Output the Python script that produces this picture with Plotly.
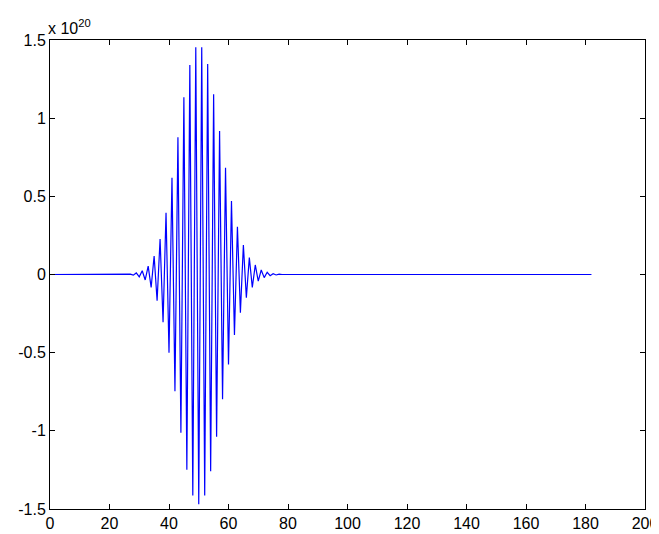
import plotly.graph_objects as go

# Sample index 0..182 ; values in units of 1e20
N_POINTS = 183
PULSE_START = 27
pulse_values = [
    0.002, -0.004, 0.010, -0.015, 0.024, -0.035, 0.054, -0.082, 0.118, -0.167,
    0.227, -0.306, 0.395, -0.500, 0.619, -0.747, 0.878, -1.012, 1.134, -1.249,
    1.340, -1.413, 1.454, -1.470, 1.454, -1.413, 1.347, -1.259, 1.153, -1.038,
    0.918, -0.798, 0.683, -0.575, 0.470, -0.387, 0.306, -0.244, 0.189, -0.148,
    0.108, -0.082, 0.061, -0.042, 0.029, -0.020, 0.014, -0.008, 0.005, -0.003,
    0.002,
]
y_values = [0.0] * PULSE_START + pulse_values + [0.0] * (N_POINTS - PULSE_START - len(pulse_values))
x_values = list(range(N_POINTS))

x_ticks = [0, 20, 40, 60, 80, 100, 120, 140, 160, 180, 200]
y_ticks = [-1.5, -1, -0.5, 0, 0.5, 1, 1.5]
y_tick_labels = ["-1.5", "-1", "-0.5", "0", "0.5", "1", "1.5"]
exponent_label = "x 10<sup>20</sup>"

FONT = "Liberation Sans, Arial, sans-serif"

fig = go.Figure()
fig.add_trace(go.Scatter(x=x_values, y=y_values, mode="lines",
                         line=dict(color="#0000FF", width=1.2)))

axis_common = dict(showline=True, linecolor="black", linewidth=1, mirror="ticks",
                   ticks="inside", ticklen=5, tickcolor="black", showgrid=False,
                   zeroline=False, automargin=False,
                   tickfont=dict(family=FONT, size=16, color="black"))

fig.update_xaxes(range=[0, 200], tickvals=x_ticks, **axis_common)
fig.update_yaxes(range=[-1.5, 1.5], tickvals=y_ticks, ticktext=y_tick_labels, **axis_common)

fig.add_annotation(text=exponent_label, xref="paper", yref="paper", x=0, y=1,
                   xanchor="left", yanchor="bottom", showarrow=False, yshift=1, xshift=-4,
                   font=dict(family=FONT, size=16, color="black"))

# page body adds ~8px margin; size figure so the visible window matches 659x534
fig.update_layout(width=651, height=526, margin=dict(l=42, r=14, t=32, b=25),
                  paper_bgcolor="white", plot_bgcolor="white", showlegend=False)

fig.write_html("out.html")
